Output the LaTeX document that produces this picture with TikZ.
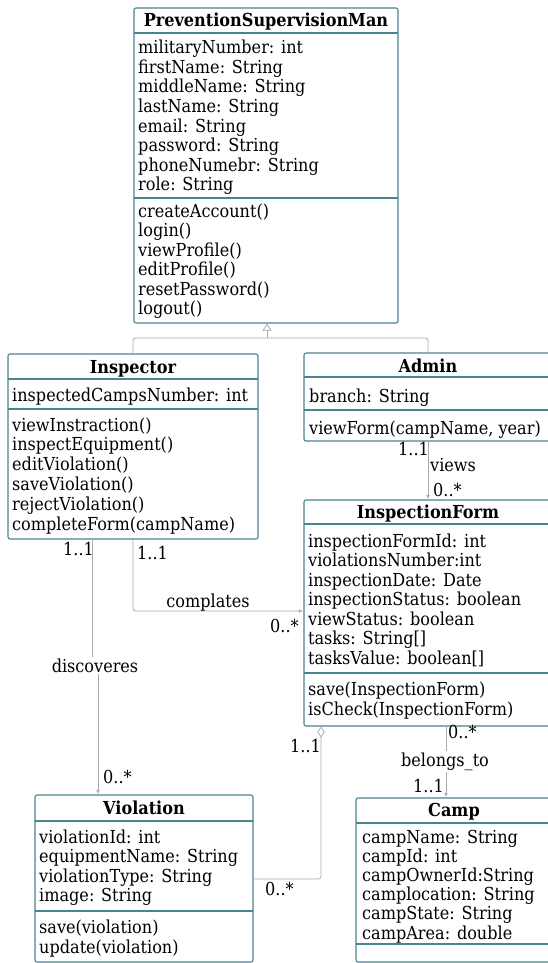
\documentclass[tikz,border=0pt]{standalone}
\usepackage{fontspec}
\setmainfont{DejaVu Serif Condensed}
\usetikzlibrary{arrows.meta,fit}
\definecolor{boxc}{RGB}{72,133,141}
\definecolor{connc}{RGB}{168,170,178}
\newlength\reflen
\begin{document}
\settowidth\reflen{\fontsize{10pt}{12pt}\selectfont inspectedCampsNumber: int}%
\pgfmathsetmacro\fs{10*236/\reflen}%
\begin{tikzpicture}[x=1pt,y=-1pt]
\tikzset{
 txt/.style={font=\fontsize{\fs pt}{19.5pt}\selectfont, inner sep=0pt, text=black},
 cls/.style={draw=boxc, line width=1.1pt, rounded corners=2pt, fill=white, inner sep=0pt},
 hd/.style={txt, font=\fontsize{\fs pt}{19.5pt}\selectfont\bfseries, anchor=base},
 mem/.style={txt, anchor=base west},
 lbl/.style={txt, anchor=base west},
 clbl/.style={txt, anchor=base, fill=white, inner sep=1.5pt},
 sep/.style={draw=boxc, line width=1.1pt},
 conn/.style={draw=connc, line width=0.8pt, rounded corners=2.5pt},
 arr/.style={-{Latex[length=4.5pt,width=3.5pt]}},
}
\useasboundingbox (0,0) rectangle (548,963);
\clip (0,0) rectangle (548,963);

% ---------- PreventionSupervisionMan
\node[cls, fit={(134,8) (398,323)}] (psm) {};
\draw[sep] (134,33) -- (398,33);
\draw[sep] (134,198) -- (398,198);
\node[hd] (psmT) at (266,27) {PreventionSupervisionMan};
\foreach \t [count=\i from 0] in {militaryNumber: int, firstName: String, middleName: String, lastName: String, email: String, password: String, phoneNumebr: String, role: String}
  \node[mem] (psmA\i) at (138,{54+19.5*\i}) {\t};
\foreach \t [count=\i from 0] in {createAccount(), login(), viewProfile(), editProfile(), resetPassword(), logout()}
  \node[mem] (psmM\i) at (138,{217+19.5*\i}) {\t};

% ---------- Inspector
\node[cls, fit={(8,354) (258,539)}] (insp) {};
\draw[sep] (8,379) -- (258,379);
\draw[sep] (8,409) -- (258,409);
\node[hd] (inspT) at (133,373) {Inspector};
\node[mem] (inspA0) at (12,401) {inspectedCampsNumber: int};
\foreach \t [count=\i from 0] in {viewInstraction(), inspectEquipment(), editViolation(), saveViolation(), rejectViolation(), completeForm(campName)}
  \node[mem] (inspM\i) at (12,{431+19.8*\i}) {\t};

% ---------- Admin
\node[cls, fit={(304,353) (552,441)}] (admin) {};
\draw[sep] (304,377) -- (552,377);
\draw[sep] (304,410) -- (552,410);
\node[hd] (adminT) at (428,372) {Admin};
\node[mem] (adminA0) at (309,402) {branch: String};
\node[mem] (adminM0) at (309,434) {viewForm(campName, year)};

% ---------- InspectionForm
\node[cls, fit={(304,500) (552,726)}] (iform) {};
\draw[sep] (304,524) -- (552,524);
\draw[sep] (304,673) -- (552,673);
\node[hd] (iformT) at (428,518) {InspectionForm};
\foreach \t [count=\i from 0] in {inspectionFormId: int, violationsNumber:int, inspectionDate: Date, inspectionStatus: boolean, viewStatus: boolean, tasks: String[], tasksValue: boolean[]}
  \node[mem] (iformA\i) at (308,{547+19.5*\i}) {\t};
\foreach \t [count=\i from 0] in {save(InspectionForm), isCheck(InspectionForm)}
  \node[mem] (iformM\i) at (308,{695+20*\i}) {\t};

% ---------- Camp
\node[cls, fit={(356,798) (552,962)}] (camp) {};
\draw[sep] (356,823) -- (552,823);
\draw[sep] (356,944) -- (552,944);
\node[hd] (campT) at (454,816) {Camp};
\foreach \t [count=\i from 0] in {campName: String, campId: int, campOwnerId:String, camplocation: String, campState: String, campArea: double}
  \node[mem] (campA\i) at (362,{843+19.2*\i}) {\t};

% ---------- Violation
\node[cls, fit={(35,795) (253,962)}] (viol) {};
\draw[sep] (35,821) -- (253,821);
\draw[sep] (35,911) -- (253,911);
\node[hd] (violT) at (144,814) {Violation};
\foreach \t [count=\i from 0] in {violationId: int, equipmentName: String, violationType: String, image: String}
  \node[mem] (violA\i) at (39,{843+19.6*\i}) {\t};
\foreach \t [count=\i from 0] in {save(violation), update(violation)}
  \node[mem] (violM\i) at (39,{933+20*\i}) {\t};

% ---------- generalization
\coordinate (gj) at (267,338);
\draw[conn] (insp.north) |- (gj) -| (admin.north);
\draw[conn, -{Triangle[open, length=7pt, width=9pt]}] (gj) -- (267,323.6);

% ---------- views
\draw[conn, arr] (admin.south) -- (iform.north);
\node[lbl] (vw1) at (398,455) {1..1};
\node[lbl] (vwL) at (430,471) {views};
\node[lbl] (vw2) at (433,496) {0..*};

% ---------- complates
\draw[conn, arr] (insp.south) |- (iform.west |- 0,611);
\node[lbl] (cp1) at (137,559) {1..1};
\node[txt, anchor=base] (cpL) at (208,607) {complates};
\node[lbl] (cp2) at (270,632) {0..*};

% ---------- discoveres
\node[clbl] (dsL) at (95,672) {discoveres};
\draw[conn] (insp.south -| 92,0) -- (dsL.north -| 92,0);
\draw[conn, arr] (dsL.south -| 98,0) -- (viol.north -| 98,0);
\node[lbl] (ds1) at (63,555) {1..1};
\node[lbl] (ds2) at (103,783) {0..*};

% ---------- aggregation
\draw[conn, {Diamond[open, length=11pt, width=7.5pt]}-] (iform.south -| 321,0) |- (viol.east |- 0,879);
\node[lbl] (ag1) at (290,752) {1..1};
\node[lbl] (ag2) at (265,895) {0..*};

% ---------- belongs_to
\draw[conn, arr] (iform.south -| 446,0) -- (camp.north -| 446,0);
\node[clbl] (btL) at (445,766) {belongs\_to};
\node[lbl] (bt1) at (448,738) {0..*};
\node[lbl] (bt2) at (413,792) {1..1};
\end{tikzpicture}
\end{document}
